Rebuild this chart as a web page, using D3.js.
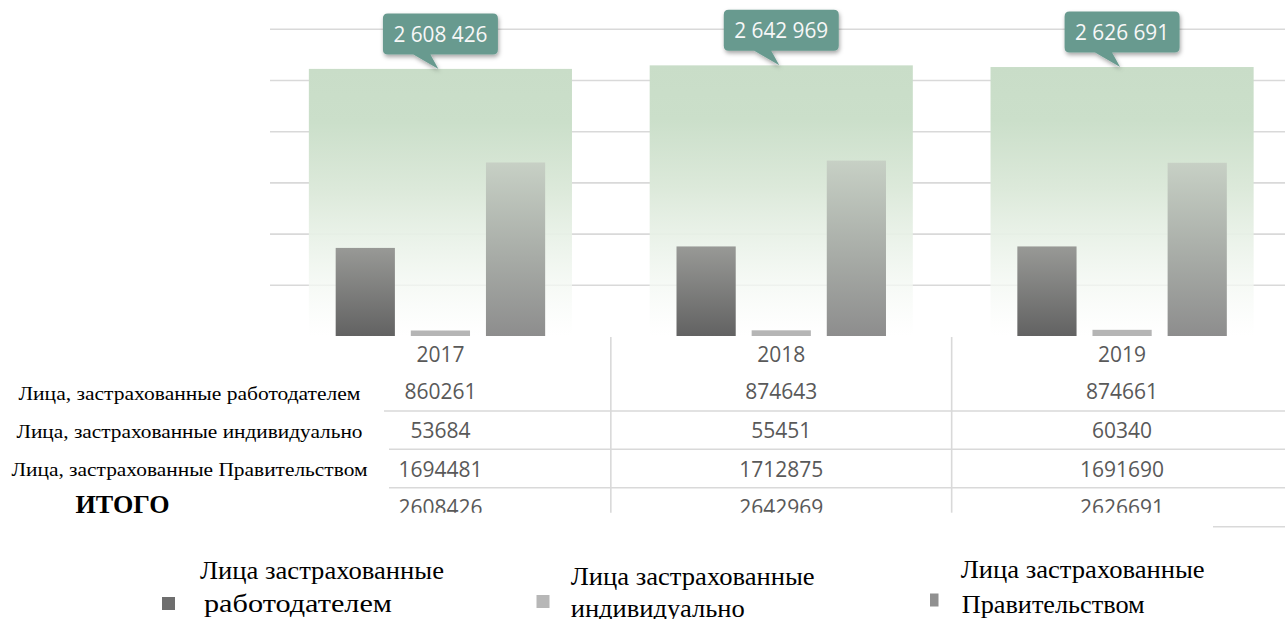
<!DOCTYPE html>
<html>
<head>
<meta charset="utf-8">
<script src="https://cdn.jsdelivr.net/npm/d3@7"></script>
<style>
  html, body { margin: 0; padding: 0; background: #ffffff; }
  svg { display: block; }
</style>
</head>
<body>
<svg id="chart" width="1285" height="619"></svg>
<script>
// ---------- DATA ----------
const years = ["2017", "2018", "2019"];
const employer = [860261, 874643, 874661];
const individual = [53684, 55451, 60340];
const government = [1694481, 1712875, 1691690];
const total = [2608426, 2642969, 2626691];
const yTicks = [500000, 1000000, 1500000, 2000000, 2500000, 3000000];
const rowLabels = [
  "Лица, застрахованные работодателем",
  "Лица, застрахованные индивидуально",
  "Лица, застрахованные Правительством"
];
const totalRowLabel = "ИТОГО";
const legendLine1 = ["Лица застрахованные", "Лица застрахованные", "Лица застрахованные"];
const legendLine2 = ["работодателем", "индивидуально", "Правительством"];
const seriesKeys = ["employer", "individual", "government"];

// ---------- SETUP ----------
const svg = d3.select("#chart");
const W = 1285;
const x = d3.scaleBand().domain(years).range([270, 1292.5]).paddingInner(0.228).paddingOuter(0.114);
const xs = d3.scaleBand().domain(seriesKeys).range([0, x.bandwidth()]).paddingInner(0.212).paddingOuter(0.357);
const y = d3.scaleLinear().domain([0, 3000000]).range([336, 28.8]);
const fmtSpace = d3.formatLocale({ decimal: ",", thousands: " ", grouping: [3], currency: ["", ""] }).format(",d");

const defs = svg.append("defs");
function vgrad(id, stops) {
  const g = defs.append("linearGradient").attr("id", id).attr("x1", 0).attr("y1", 0).attr("x2", 0).attr("y2", 1);
  stops.forEach(s => g.append("stop").attr("offset", s[0]).attr("stop-color", s[1]).attr("stop-opacity", s[2] == null ? 1 : s[2]));
}
vgrad("gTotal", [[0, "#c9ddc8"], [0.2, "#cbdfca"], [0.45, "#dce9da"], [0.7, "#edf4ec", 0.9], [1, "#ffffff", 0.6]]);
vgrad("gEmp", [[0, "#989996"], [1, "#626262"]]);
vgrad("gGov", [[0, "#c7d0c5"], [1, "#8d8d8d"]]);
const shadow = defs.append("filter").attr("id", "shadow").attr("x", "-20%").attr("y", "-20%").attr("width", "140%").attr("height", "160%");
shadow.append("feDropShadow").attr("dx", 1).attr("dy", 2.5).attr("stdDeviation", 2.2).attr("flood-color", "#000").attr("flood-opacity", 0.35);
defs.append("clipPath").attr("id", "tableClip").append("rect").attr("x", 380).attr("y", 336).attr("width", 910).attr("height", 176.7);

// ---------- GRIDLINES (axis) ----------
const gridAxis = d3.axisLeft(y).tickValues(yTicks).tickSize(-(W - 270)).tickFormat("");
const gGrid = svg.append("g").attr("transform", "translate(270,0)").call(gridAxis);
gGrid.select(".domain").remove();
gGrid.selectAll(".tick line").attr("stroke", "#d9d9d9").attr("stroke-width", 1.6);

// ---------- TOTAL BARS ----------
svg.append("g").selectAll("rect").data(years).join("rect")
  .attr("x", d => x(d))
  .attr("y", (d, i) => y(total[i]))
  .attr("width", x.bandwidth())
  .attr("height", (d, i) => y(0) - y(total[i]))
  .attr("fill", "url(#gTotal)");

// ---------- SERIES BARS ----------
const seriesVals = { employer, individual, government };
const seriesFill = { employer: "url(#gEmp)", individual: "#b5b5b5", government: "url(#gGov)" };
seriesKeys.forEach(k => {
  svg.append("g").selectAll("rect").data(years).join("rect")
    .attr("x", d => x(d) + xs(k))
    .attr("y", (d, i) => y(seriesVals[k][i]))
    .attr("width", xs.bandwidth())
    .attr("height", (d, i) => y(0) - y(seriesVals[k][i]))
    .attr("fill", seriesFill[k]);
});

// ---------- CALLOUTS ----------
const boxW = 115, boxH = 41, gap = 14.5, r = 5;
years.forEach((yr, i) => {
  const c = x(yr) + x.bandwidth() / 2;
  const tipY = y(total[i]);
  const bottom = tipY - gap;
  const top = bottom - boxH;
  const left = c - boxW / 2, right = c + boxW / 2;
  const p = d3.path();
  p.moveTo(left + r, top);
  p.lineTo(right - r, top);
  p.quadraticCurveTo(right, top, right, top + r);
  p.lineTo(right, bottom - r);
  p.quadraticCurveTo(right, bottom, right - r, bottom);
  p.lineTo(c - 10, bottom);
  p.lineTo(c - 2, tipY);
  p.lineTo(c - 27, bottom);
  p.lineTo(left + r, bottom);
  p.quadraticCurveTo(left, bottom, left, bottom - r);
  p.lineTo(left, top + r);
  p.quadraticCurveTo(left, top, left + r, top);
  p.closePath();
  const g = svg.append("g");
  g.append("path").attr("d", p.toString()).attr("fill", "#689a8f").attr("filter", "url(#shadow)");
  g.append("text").attr("x", c).attr("y", top + 28.5)
    .attr("text-anchor", "middle")
    .attr("font-family", "'Open Sans', sans-serif").attr("font-size", 21)
    .attr("fill", "#f7f7f7")
    .attr("textLength", 94).attr("lengthAdjust", "spacingAndGlyphs")
    .text(fmtSpace(total[i]));
});

// ---------- DATA TABLE ----------
const tbl = svg.append("g");
const hLines = [{ y: 411, x0: 384 }, { y: 449.3, x0: 389 }, { y: 487.7, x0: 389 }];
tbl.selectAll("line.h").data(hLines).join("line").attr("class", "h")
  .attr("x1", d => d.x0).attr("x2", W).attr("y1", d => d.y).attr("y2", d => d.y)
  .attr("stroke", "#d9d9d9").attr("stroke-width", 1.6);
tbl.selectAll("line.v").data(years.slice(1)).join("line").attr("class", "v")
  .attr("x1", d => x(d) - x.step() * x.paddingInner() / 2)
  .attr("x2", d => x(d) - x.step() * x.paddingInner() / 2)
  .attr("y1", 337).attr("y2", 512.7)
  .attr("stroke", "#d9d9d9").attr("stroke-width", 1.6);
svg.append("line").attr("x1", 1213).attr("x2", W).attr("y1", 526.7).attr("y2", 526.7)
  .attr("stroke", "#d9d9d9").attr("stroke-width", 1.6);

const cell = tbl.append("g").attr("clip-path", "url(#tableClip)")
  .attr("font-family", "'Open Sans', sans-serif").attr("font-size", 21).attr("fill", "#595959")
  .attr("text-anchor", "middle");
const rowsData = [years, employer, individual, government, total];
const rowBase = [362.3, 399, 438.3, 476.7, 514.5];
rowsData.forEach((row, ri) => {
  cell.append("g").selectAll("text").data(row).join("text")
    .attr("x", (d, i) => x(years[i]) + x.bandwidth() / 2)
    .attr("y", rowBase[ri])
    .text(d => String(d));
});

// row labels
const labBase = [400, 437.5, 475.7];
const labLen = [342, 346, 356];
svg.append("g").selectAll("text").data(rowLabels).join("text")
  .attr("x", 189.5).attr("y", (d, i) => labBase[i])
  .attr("text-anchor", "middle")
  .attr("font-family", "'Liberation Serif', 'Times New Roman', serif").attr("font-size", 19.5)
  .attr("fill", "#000")
  .attr("textLength", (d, i) => labLen[i]).attr("lengthAdjust", "spacingAndGlyphs")
  .text(d => d);
svg.append("text").attr("x", 122.5).attr("y", 513.3).attr("text-anchor", "middle")
  .attr("font-family", "'Liberation Serif', 'Times New Roman', serif").attr("font-size", 25).attr("font-weight", "bold")
  .attr("fill", "#000")
  .attr("textLength", 94).attr("lengthAdjust", "spacingAndGlyphs")
  .text(totalRowLabel);

// ---------- LEGEND ----------
const legendPos = [
  { mx: 162, my: 597, mw: 13, mh: 13, t1x: 200, t1y: 579, t2x: 204, t2y: 611.5, l2: 188 },
  { mx: 536.5, my: 595, mw: 13, mh: 13, t1x: 570.7, t1y: 585, t2x: 570.7, t2y: 616.7, l2: 174 },
  { mx: 930, my: 593.5, mw: 8.5, mh: 13, t1x: 960.7, t1y: 578, t2x: 961.7, t2y: 613, l2: 183 }
];
const legendColor = ["#6e6e6e", "#b7b7b7", "#909090"];
const leg = svg.append("g").attr("font-family", "'Liberation Serif', 'Times New Roman', serif").attr("font-size", 26).attr("fill", "#000");
seriesKeys.forEach((k, i) => {
  const p = legendPos[i];
  leg.append("rect").attr("x", p.mx).attr("y", p.my).attr("width", p.mw).attr("height", p.mh).attr("fill", legendColor[i]);
  leg.append("text").attr("x", p.t1x).attr("y", p.t1y)
    .attr("textLength", 244).attr("lengthAdjust", "spacingAndGlyphs").text(legendLine1[i]);
  leg.append("text").attr("x", p.t2x).attr("y", p.t2y)
    .attr("textLength", p.l2).attr("lengthAdjust", "spacingAndGlyphs").text(legendLine2[i]);
});
</script>
</body>
</html>
